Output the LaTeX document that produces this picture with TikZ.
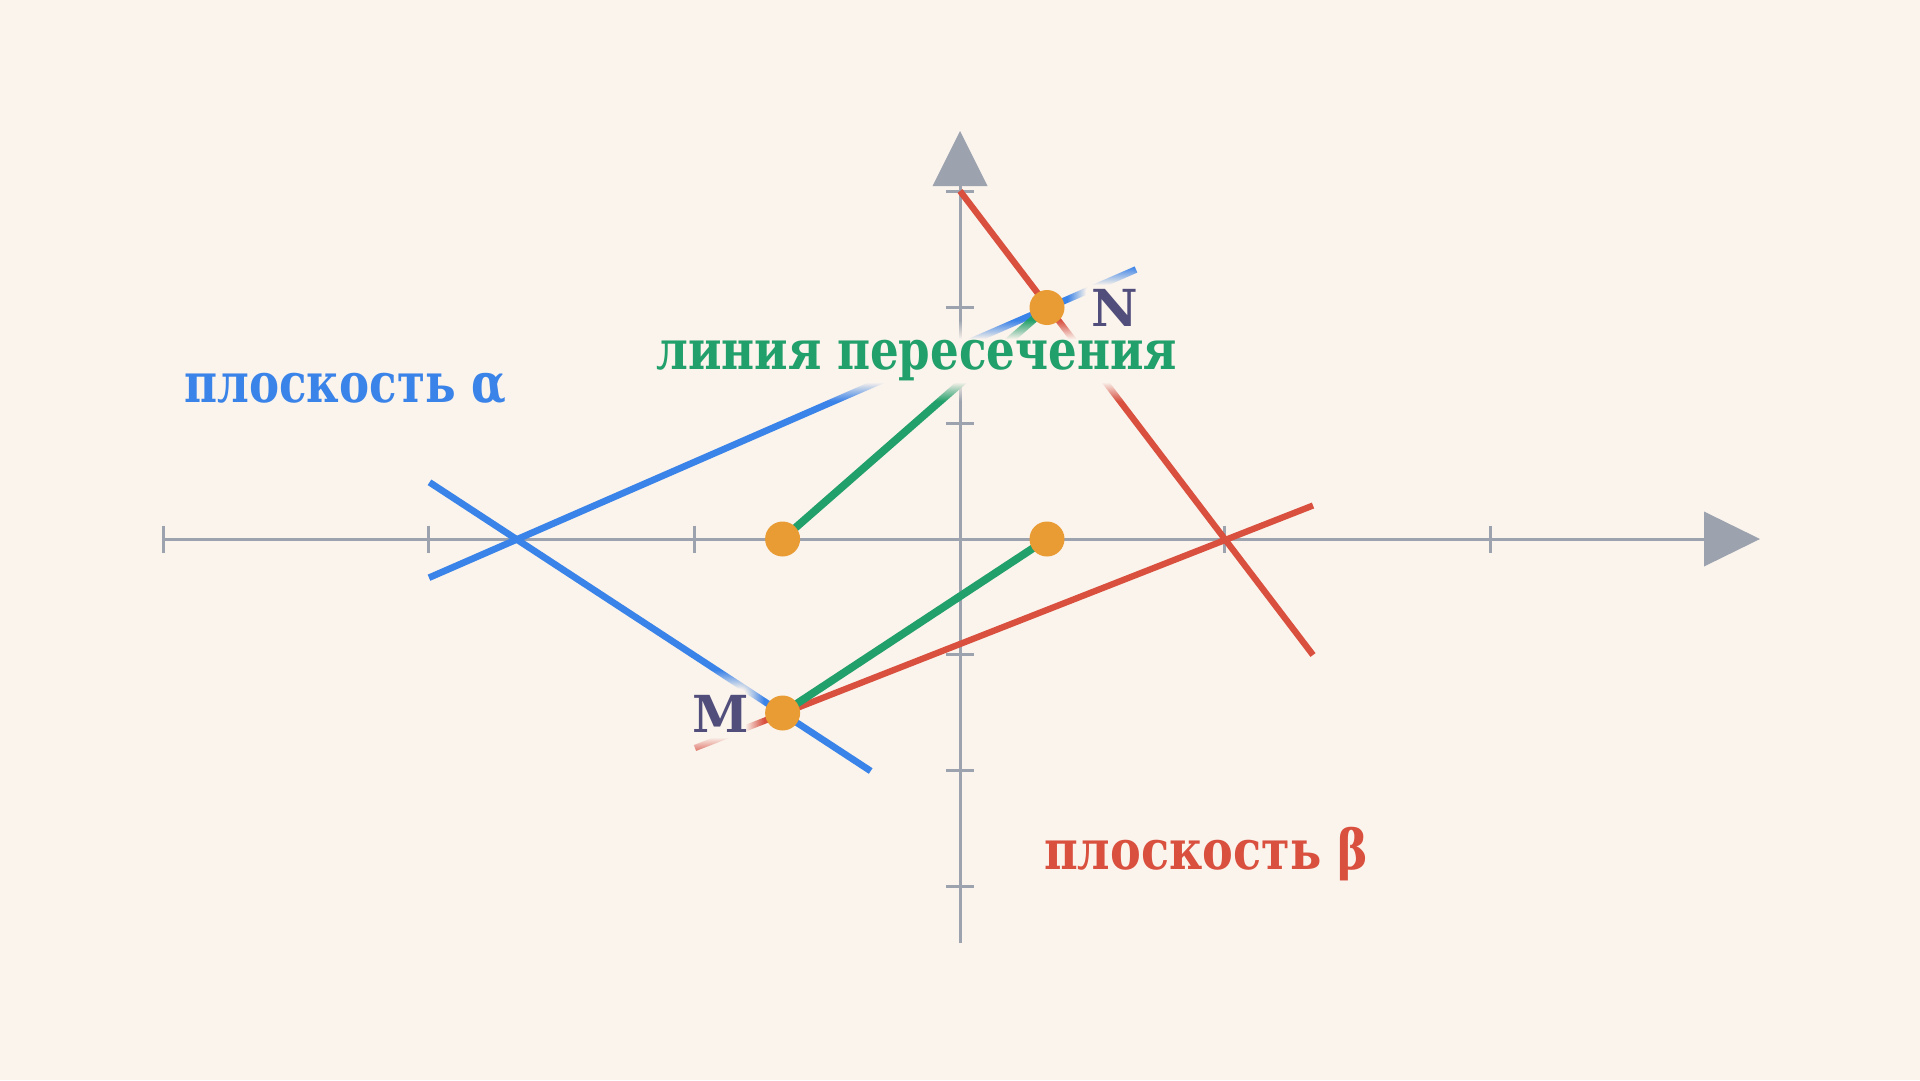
\documentclass[tikz,border=0pt]{standalone}
\usepackage{fontspec}
\setmainfont{DejaVu Serif}
\usetikzlibrary{calc}
\definecolor{bgc}{HTML}{FBF4ED}
\definecolor{axc}{HTML}{9CA3AF}
\definecolor{bluec}{HTML}{3A83E8}
\definecolor{redc}{HTML}{D9503F}
\definecolor{greenc}{HTML}{22A06B}
\definecolor{dotc}{HTML}{E99B34}
\definecolor{lblc}{HTML}{514E7B}
\newcommand\lblfont{\bfseries\fontsize{55}{60}\selectfont}
\newcommand\ptfont{\bfseries\fontsize{51}{56}\selectfont}
\newcommand\tA{\resizebox{322pt}{\height}{плоскость α}}
\newcommand\tB{\resizebox{324pt}{\height}{плоскость β}}
\newcommand\tL{\resizebox{521pt}{\height}{линия пересечения}}
% soft halo: box from #1 (top-left) to #2 (bottom-right), opaque within 6px, fading to 0 at 24px
\newcommand\softhalo[2]{%
  \foreach \k in {0,...,18}{%
    \pgfmathsetmacro\hop{1/(19-\k)}%
    \pgfmathsetmacro\hex{24-\k}%
    \fill[bgc,fill opacity=\hop,rounded corners=\hex pt]
      ($(#1)+(-\hex,-\hex)$) rectangle ($(#2)+(\hex,\hex)$);%
  }%
}
\tikzset{
  axis/.style={draw=axc,line width=3pt},
  arrowhd/.style={fill=axc},
  bline/.style={draw=bluec,line width=6.7pt},
  rline/.style={draw=redc,line width=6.3pt},
  gline/.style={draw=greenc,line width=7.8pt},
  dotm/.style={fill=dotc},
  lbl/.style={anchor=base west,inner sep=0pt,font=\lblfont},
  ptl/.style={anchor=base west,inner sep=0pt,font=\ptfont,text=lblc},
}
\begin{document}
\begin{tikzpicture}[x=1pt,y=-1pt]
\fill[bgc] (0,0) rectangle (1920,1080);
\useasboundingbox (0,0) rectangle (1920,1080);
% axes
\coordinate (xs) at (163,539);
\coordinate (xe) at (1704,539);
\coordinate (ys) at (960,943);
\coordinate (ye) at (960,186);
\draw[axis] (xs) -- (xe);
\draw[axis] (ys) -- (ye);
\fill[arrowhd] (1704,511.5) -- (1760,539) -- (1704,566.5) -- cycle;
\fill[arrowhd] (932.5,186) -- (960,131) -- (987.5,186) -- cycle;
\foreach \x in {163,428.6,694,1224.5,1490} \draw[axis] (\x,525.5) -- (\x,552.5);
\foreach \y in {191.9,307.6,423.3,654.7,770.4,886.1} \draw[axis] (946,\y) -- (974,\y);
% points
\coordinate (N) at (1047,307.5);
\coordinate (M) at (782.6,713);
\coordinate (P1) at (1047,539);
\coordinate (P2) at (782.6,539);
\coordinate (a1s) at (429,577.7);
\coordinate (a1e) at (1136,269.5);
\coordinate (a2s) at (429.5,482.3);
\coordinate (a2e) at (870.7,771);
\coordinate (b1s) at (960,191);
\coordinate (b1e) at (1313,655);
\coordinate (b2s) at (695,748);
\coordinate (b2e) at (1313,505.5);
% plane lines
\draw[bline] (a1s) -- (a1e);
\draw[bline] (a2s) -- (a2e);
\draw[rline] (b1s) -- (b1e);
\draw[rline] (b2s) -- (b2e);
\draw[gline] (P2) -- (N);
\draw[gline] (M) -- (P1);
% halos behind labels
\coordinate (hLtl) at (652,345);
\coordinate (hLbr) at (1181,377);
\coordinate (hMtl) at (692,695);
\coordinate (hMbr) at (740,732);
\coordinate (hNtl) at (1092,291);
\coordinate (hNbr) at (1131,327);
\softhalo{hLtl}{hLbr}
\softhalo{hMtl}{hMbr}
\softhalo{hNtl}{hNbr}
% labels
\coordinate (lA) at (184,402);
\coordinate (lL) at (656,369);
\coordinate (lB) at (1044,869);
\coordinate (lM) at (692,732);
\coordinate (lN) at (1091,326.5);
\node[lbl,text=bluec] (tA) at (lA) {\tA};
\node[lbl,text=greenc] (tL) at (lL) {\tL};
\node[lbl,text=redc] (tB) at (lB) {\tB};
\node[ptl] (tM) at (lM) {M};
\node[ptl] (tN) at (lN) {N};
% dots
\fill[dotm] (N) circle (17.5pt);
\fill[dotm] (M) circle (17.5pt);
\fill[dotm] (P1) circle (17.5pt);
\fill[dotm] (P2) circle (17.5pt);
\end{tikzpicture}
\end{document}
